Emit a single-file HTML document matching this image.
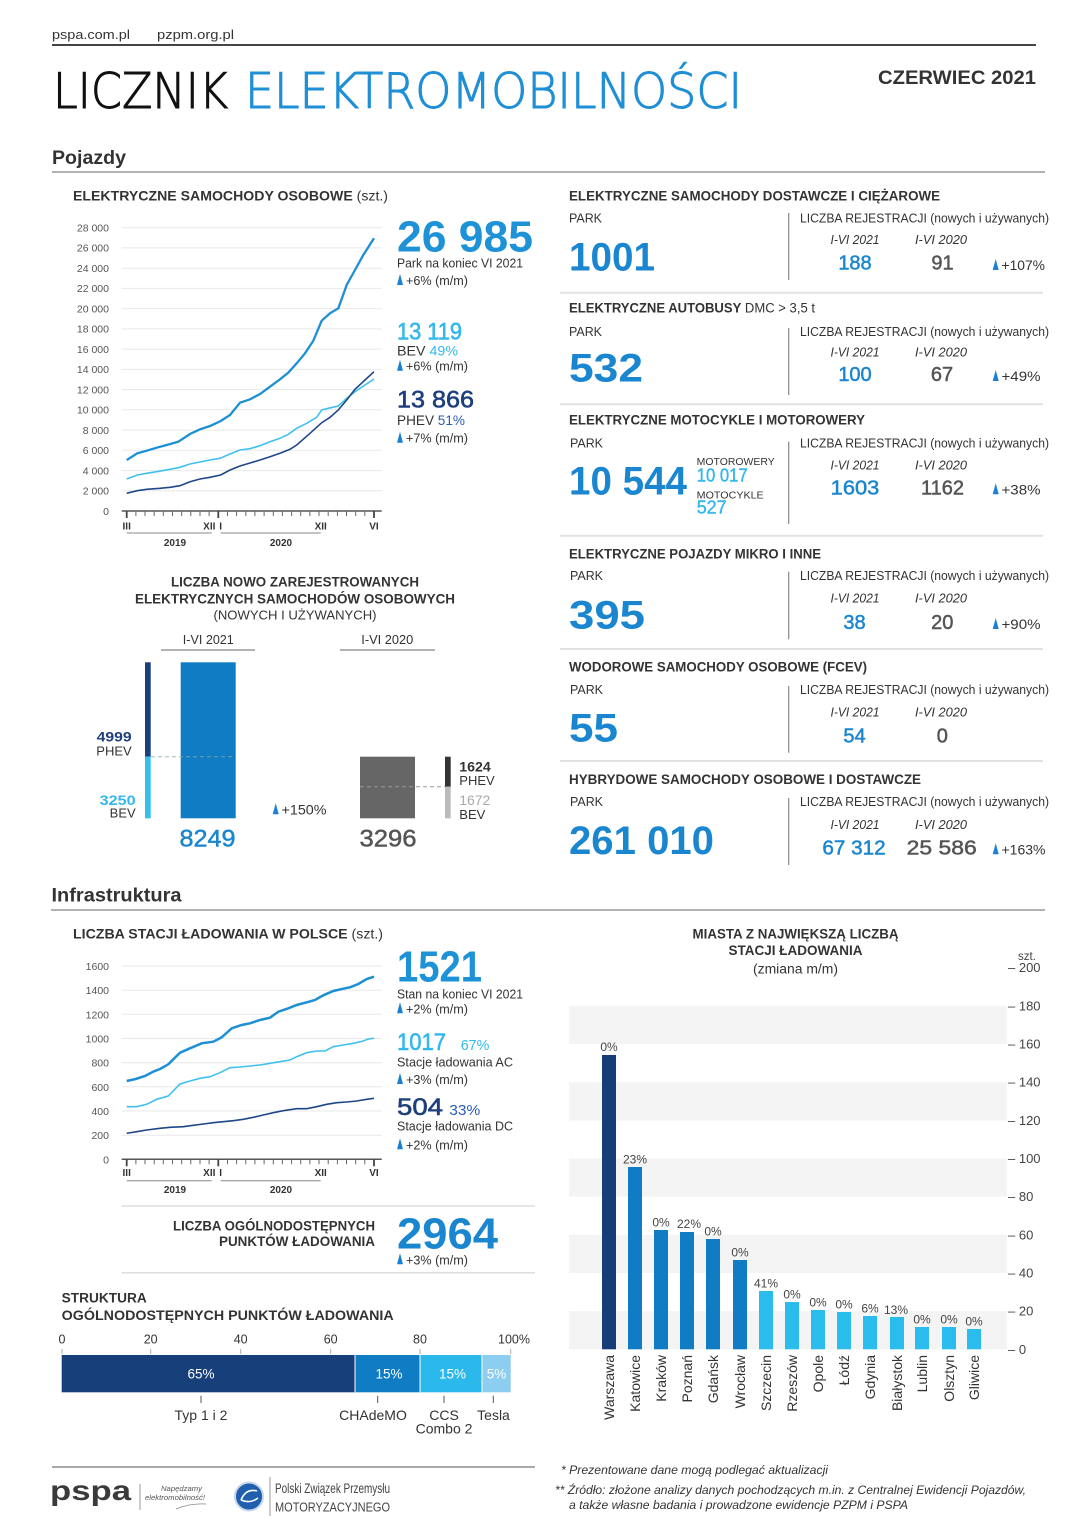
<!DOCTYPE html>
<html><head><meta charset="utf-8"><style>
html,body{margin:0;padding:0;background:#fff;}
svg{display:block;}
text{font-family:"Liberation Sans",Arial,sans-serif;fill:#333;}
.b{font-weight:bold;}
.i{font-style:italic;}
.sm{font-size:12.5px;}
.ax{font-size:10.5px;fill:#555;}
.blue{fill:#1a86cf;}
.lb{fill:#33b7ec;}
.nv{fill:#1e3f7e;}
</style></head><body>
<svg width="1086" height="1536" viewBox="0 0 1086 1536" xmlns="http://www.w3.org/2000/svg">
<rect width="1086" height="1536" fill="#fff"/>

<!-- HEADER -->
<text x="52" y="39" font-size="13" textLength="78" lengthAdjust="spacingAndGlyphs">pspa.com.pl</text>
<text x="157" y="39" font-size="13" textLength="77" lengthAdjust="spacingAndGlyphs">pzpm.org.pl</text>
<line x1="52" y1="45" x2="1036" y2="45" stroke="#444" stroke-width="2"/>
<text x="53" y="108" font-size="49" style="font-family:'DejaVu Sans','Liberation Sans',sans-serif;font-weight:200;fill:#111" stroke="#111" stroke-width="1" textLength="175" lengthAdjust="spacingAndGlyphs">LICZNIK</text>
<text x="245" y="108" font-size="49" style="font-family:'DejaVu Sans','Liberation Sans',sans-serif;font-weight:200;fill:#1f8fd6" stroke="#1f8fd6" stroke-width="1" textLength="497" lengthAdjust="spacingAndGlyphs">ELEKTROMOBILNOŚCI</text>
<text x="878" y="84" font-size="19" class="b" fill="#222" textLength="158" lengthAdjust="spacingAndGlyphs">CZERWIEC 2021</text>

<text x="52" y="164" font-size="19" class="b" textLength="74" lengthAdjust="spacingAndGlyphs">Pojazdy</text>
<line x1="52" y1="172" x2="1045" y2="172" stroke="#999" stroke-width="1.5"/>

<!-- CARS LINE CHART -->
<text x="73" y="200.7" font-size="13.5" textLength="315" lengthAdjust="spacingAndGlyphs"><tspan class="b">ELEKTRYCZNE SAMOCHODY OSOBOWE</tspan> (szt.)</text>
<g stroke="#e8e8e8" stroke-width="1">
<line x1="121.7" y1="227.7" x2="381.7" y2="227.7"/><line x1="121.7" y1="247.9" x2="381.7" y2="247.9"/><line x1="121.7" y1="268.2" x2="381.7" y2="268.2"/><line x1="121.7" y1="288.4" x2="381.7" y2="288.4"/><line x1="121.7" y1="308.6" x2="381.7" y2="308.6"/><line x1="121.7" y1="328.9" x2="381.7" y2="328.9"/><line x1="121.7" y1="349.1" x2="381.7" y2="349.1"/><line x1="121.7" y1="369.4" x2="381.7" y2="369.4"/><line x1="121.7" y1="389.6" x2="381.7" y2="389.6"/><line x1="121.7" y1="409.8" x2="381.7" y2="409.8"/><line x1="121.7" y1="430.1" x2="381.7" y2="430.1"/><line x1="121.7" y1="450.3" x2="381.7" y2="450.3"/><line x1="121.7" y1="470.6" x2="381.7" y2="470.6"/><line x1="121.7" y1="490.8" x2="381.7" y2="490.8"/>
</g>
<g class="ax" text-anchor="end" font-size="10.5">
<text x="109" y="231.5" class="ax">28 000</text><text x="109" y="251.7" class="ax">26 000</text><text x="109" y="272" class="ax">24 000</text><text x="109" y="292.2" class="ax">22 000</text><text x="109" y="312.4" class="ax">20 000</text><text x="109" y="332.7" class="ax">18 000</text><text x="109" y="352.9" class="ax">16 000</text><text x="109" y="373.2" class="ax">14 000</text><text x="109" y="393.4" class="ax">12 000</text><text x="109" y="413.6" class="ax">10 000</text><text x="109" y="433.9" class="ax">8 000</text><text x="109" y="454.1" class="ax">6 000</text><text x="109" y="474.4" class="ax">4 000</text><text x="109" y="494.6" class="ax">2 000</text><text x="109" y="514.8" class="ax">0</text>
</g>
<polyline fill="none" stroke="#40c0ee" stroke-width="1.6" points="126.7,479 137.3,475 146.7,473.3 156.7,471.7 170,469.3 180,467.3 190,464 200,462 210,460 220,458.3 230,454 240,450 250,448.7 260,445.7 270,441.7 280,438.3 288.3,434.3 296.7,428.3 306.7,423.3 316.7,417.3 321.7,410 328.3,408.3 338.3,406 346.7,398.3 355,391.7 365,385 374,379"/>
<polyline fill="none" stroke="#1f4788" stroke-width="1.6" points="126.7,493.3 137.3,490.7 146.7,489.3 160,488.3 170,487.3 180,485.7 190,481.7 200,479 210,477.3 220.7,475 230,470 240,466 250,463 260,460 270,456.7 280,453.3 290,449.3 296.7,445 310,433.3 321.7,422.7 330,417.3 338.3,410 346.7,400 355,389.3 365,380 374,371.7"/>
<polyline fill="none" stroke="#1d8fd4" stroke-width="2.3" points="126.7,460 137.3,453.3 146.7,450.7 156.7,447.7 166.7,445 178.3,441.7 190,434 200,429.3 210,426 220.7,421 230,415 240,402.7 250,399.3 260,394 270,386.7 280,379.3 288.3,372.7 296.7,363.3 305,353.3 313.3,340.7 321.7,320.7 330,313.3 338.3,308.3 346.7,285 355,270 363.3,255 374,238.3"/>
<line x1="121.7" y1="511" x2="381.7" y2="511" stroke="#555" stroke-width="1.5"/>
<g stroke="#666" stroke-width="1">
<line x1="135.9" y1="511" x2="135.9" y2="516"/><line x1="145" y1="511" x2="145" y2="516"/><line x1="154.2" y1="511" x2="154.2" y2="516"/><line x1="163.3" y1="511" x2="163.3" y2="516"/><line x1="172.5" y1="511" x2="172.5" y2="516"/><line x1="181.7" y1="511" x2="181.7" y2="516"/><line x1="190.8" y1="511" x2="190.8" y2="516"/><line x1="200" y1="511" x2="200" y2="516"/><line x1="209.1" y1="511" x2="209.1" y2="516"/><line x1="227.5" y1="511" x2="227.5" y2="516"/><line x1="236.6" y1="511" x2="236.6" y2="516"/><line x1="245.8" y1="511" x2="245.8" y2="516"/><line x1="254.9" y1="511" x2="254.9" y2="516"/><line x1="264.1" y1="511" x2="264.1" y2="516"/><line x1="273.3" y1="511" x2="273.3" y2="516"/><line x1="282.4" y1="511" x2="282.4" y2="516"/><line x1="291.6" y1="511" x2="291.6" y2="516"/><line x1="300.7" y1="511" x2="300.7" y2="516"/><line x1="309.9" y1="511" x2="309.9" y2="516"/><line x1="319" y1="511" x2="319" y2="516"/><line x1="328.2" y1="511" x2="328.2" y2="516"/><line x1="337.4" y1="511" x2="337.4" y2="516"/><line x1="346.5" y1="511" x2="346.5" y2="516"/><line x1="355.7" y1="511" x2="355.7" y2="516"/><line x1="364.8" y1="511" x2="364.8" y2="516"/>
</g>
<g stroke="#444" stroke-width="1.8"><line x1="126.7" y1="511" x2="126.7" y2="518"/><line x1="218.3" y1="511" x2="218.3" y2="518"/><line x1="374" y1="511" x2="374" y2="518"/></g>
<g font-size="10" class="b" text-anchor="middle">
<text x="126.7" y="529.5">III</text><text x="209.3" y="529.5">XII</text><text x="220.7" y="529.5">I</text><text x="320.7" y="529.5">XII</text><text x="374" y="529.5">VI</text>
<text x="175" y="546">2019</text><text x="281" y="546">2020</text>
</g>
<line x1="126.7" y1="533" x2="211.7" y2="533" stroke="#888"/>
<line x1="220.7" y1="533" x2="320.7" y2="533" stroke="#888"/>

<text x="397" y="251.7" font-size="44" class="b" style="fill:#1d92d6" textLength="136" lengthAdjust="spacingAndGlyphs">26 985</text>
<text x="397" y="267.3" class="sm" textLength="126" lengthAdjust="spacingAndGlyphs">Park na koniec VI 2021</text>
<path d="M397,285 L403,285 L400,274 Z" fill="#1b7fd4"/>
<text x="406" y="285" class="sm" textLength="62" lengthAdjust="spacingAndGlyphs">+6% (m/m)</text>
<text x="397" y="339.3" font-size="24" class="lb" stroke="#33b7ec" stroke-width="0.6" textLength="65" lengthAdjust="spacingAndGlyphs">13 119</text>
<text x="397" y="355.7" font-size="13.5" textLength="61" lengthAdjust="spacingAndGlyphs">BEV <tspan class="lb">49%</tspan></text>
<path d="M397,370.7 L403,370.7 L400,359.7 Z" fill="#1b7fd4"/>
<text x="406" y="370.7" class="sm" textLength="62" lengthAdjust="spacingAndGlyphs">+6% (m/m)</text>
<text x="397" y="407.7" font-size="24" class="nv" stroke="#1e3f7e" stroke-width="0.6" textLength="77" lengthAdjust="spacingAndGlyphs">13 866</text>
<text x="397" y="425" font-size="13.5" textLength="68" lengthAdjust="spacingAndGlyphs">PHEV <tspan style="fill:#2a5db8">51%</tspan></text>
<path d="M397,442.7 L403,442.7 L400,431.7 Z" fill="#1b7fd4"/>
<text x="406" y="442.7" class="sm" textLength="62" lengthAdjust="spacingAndGlyphs">+7% (m/m)</text>

<!-- NEW REGISTRATIONS BAR CHART -->
<g class="b" font-size="13.5" text-anchor="middle">
<text x="295" y="586.7" textLength="248" lengthAdjust="spacingAndGlyphs">LICZBA NOWO ZAREJESTROWANYCH</text>
<text x="295" y="603.3" textLength="320" lengthAdjust="spacingAndGlyphs">ELEKTRYCZNYCH SAMOCHODÓW OSOBOWYCH</text>
</g>
<text x="295" y="619.3" font-size="13" text-anchor="middle" textLength="163" lengthAdjust="spacingAndGlyphs">(NOWYCH I UŻYWANYCH)</text>
<text x="208.3" y="644" font-size="13" text-anchor="middle" textLength="51" lengthAdjust="spacingAndGlyphs">I-VI 2021</text>
<line x1="161" y1="650" x2="255" y2="650" stroke="#999" stroke-width="1.5"/>
<text x="387.3" y="644" font-size="13" text-anchor="middle" textLength="52" lengthAdjust="spacingAndGlyphs">I-VI 2020</text>
<line x1="340" y1="650" x2="435" y2="650" stroke="#999" stroke-width="1.5"/>
<rect x="145" y="662.3" width="5.7" height="94.4" fill="#1a3f7c"/>
<rect x="145" y="756.7" width="5.7" height="61.6" fill="#33c0f0"/>
<rect x="180.7" y="662.3" width="55" height="156" fill="#0f7cc4"/>
<line x1="151" y1="756.7" x2="236" y2="756.7" stroke="#8aa" stroke-width="1" stroke-dasharray="4,3" opacity="0.8"/>
<text x="131.7" y="741.7" font-size="14" class="b nv" text-anchor="end" textLength="35" lengthAdjust="spacingAndGlyphs">4999</text>
<text x="131.7" y="755.7" font-size="13" text-anchor="end">PHEV</text>
<text x="135.7" y="805" font-size="14" class="b lb" text-anchor="end" textLength="36" lengthAdjust="spacingAndGlyphs">3250</text>
<text x="135.7" y="817.3" font-size="13" text-anchor="end">BEV</text>
<text x="207.5" y="846.7" font-size="24" class="blue" stroke="#1a86cf" stroke-width="0.5" text-anchor="middle" textLength="56" lengthAdjust="spacingAndGlyphs">8249</text>
<path d="M272.7,814.3 L278.7,814.3 L275.7,803.3 Z" fill="#1b7fd4"/>
<text x="281.5" y="814.3" font-size="13.5" textLength="45" lengthAdjust="spacingAndGlyphs">+150%</text>
<rect x="360" y="756.7" width="55" height="61.6" fill="#666"/>
<line x1="360" y1="786.7" x2="445" y2="786.7" stroke="#999" stroke-width="1" stroke-dasharray="4,3"/>
<rect x="445" y="756.7" width="5.7" height="30" fill="#333"/>
<rect x="445" y="786.7" width="5.7" height="31.6" fill="#bbb"/>
<text x="459.3" y="771.7" font-size="14" class="b" fill="#222" textLength="31.5" lengthAdjust="spacingAndGlyphs">1624</text>
<text x="459.3" y="785" font-size="13">PHEV</text>
<text x="459.3" y="805" font-size="14" style="fill:#aaa" textLength="31" lengthAdjust="spacingAndGlyphs">1672</text>
<text x="459.3" y="819" font-size="13">BEV</text>
<text x="388" y="846.7" font-size="24" style="fill:#555" stroke="#555" stroke-width="0.5" text-anchor="middle" textLength="57" lengthAdjust="spacingAndGlyphs">3296</text>

<!-- RIGHT PANEL -->
<g stroke="#e2e2e2" stroke-width="2">
<line x1="560" y1="292.7" x2="1043" y2="292.7"/><line x1="560" y1="404.3" x2="1043" y2="404.3"/><line x1="560" y1="535.7" x2="1043" y2="535.7"/><line x1="560" y1="649" x2="1043" y2="649"/><line x1="560" y1="761" x2="1043" y2="761"/>
</g>
<g stroke="#888" stroke-width="1.2">
<line x1="788.7" y1="213" x2="788.7" y2="280"/><line x1="788.7" y1="328" x2="788.7" y2="395"/><line x1="788.7" y1="441.7" x2="788.7" y2="524"/><line x1="788.7" y1="571.7" x2="788.7" y2="639.3"/><line x1="788.7" y1="686" x2="788.7" y2="752.7"/><line x1="788.7" y1="798" x2="788.7" y2="865"/>
</g>
<g font-size="13.5">
<text x="569" y="200.7" class="b" textLength="371" lengthAdjust="spacingAndGlyphs">ELEKTRYCZNE SAMOCHODY DOSTAWCZE I CIĘŻAROWE</text>
<text x="569" y="312.7" textLength="246" lengthAdjust="spacingAndGlyphs"><tspan class="b">ELEKTRYCZNE AUTOBUSY</tspan> DMC &gt; 3,5 t</text>
<text x="569" y="424.3" class="b" textLength="296" lengthAdjust="spacingAndGlyphs">ELEKTRYCZNE MOTOCYKLE I MOTOROWERY</text>
<text x="569" y="558.3" class="b" textLength="252" lengthAdjust="spacingAndGlyphs">ELEKTRYCZNE POJAZDY MIKRO I INNE</text>
<text x="569" y="671.7" class="b" textLength="298" lengthAdjust="spacingAndGlyphs">WODOROWE SAMOCHODY OSOBOWE (FCEV)</text>
<text x="569" y="784" class="b" textLength="352" lengthAdjust="spacingAndGlyphs">HYBRYDOWE SAMOCHODY OSOBOWE I DOSTAWCZE</text>
</g>
<g font-size="12.5" style="fill:#444">
<text x="569" y="222.7" textLength="33" lengthAdjust="spacingAndGlyphs">PARK</text>
<text x="569" y="336" textLength="33" lengthAdjust="spacingAndGlyphs">PARK</text>
<text x="570" y="447.7" textLength="33" lengthAdjust="spacingAndGlyphs">PARK</text>
<text x="570" y="580" textLength="33" lengthAdjust="spacingAndGlyphs">PARK</text>
<text x="570" y="694" textLength="33" lengthAdjust="spacingAndGlyphs">PARK</text>
<text x="570" y="806" textLength="33" lengthAdjust="spacingAndGlyphs">PARK</text>
</g>
<g font-size="12.5">
<text x="800" y="222.7" textLength="249" lengthAdjust="spacingAndGlyphs">LICZBA REJESTRACJI (nowych i używanych)</text>
<text x="800" y="336" textLength="249" lengthAdjust="spacingAndGlyphs">LICZBA REJESTRACJI (nowych i używanych)</text>
<text x="800" y="447.7" textLength="249" lengthAdjust="spacingAndGlyphs">LICZBA REJESTRACJI (nowych i używanych)</text>
<text x="800" y="580" textLength="249" lengthAdjust="spacingAndGlyphs">LICZBA REJESTRACJI (nowych i używanych)</text>
<text x="800" y="694" textLength="249" lengthAdjust="spacingAndGlyphs">LICZBA REJESTRACJI (nowych i używanych)</text>
<text x="800" y="806" textLength="249" lengthAdjust="spacingAndGlyphs">LICZBA REJESTRACJI (nowych i używanych)</text>
</g>
<g font-size="12.5" class="i" text-anchor="middle">
<text x="855" y="244" class="i" textLength="49" lengthAdjust="spacingAndGlyphs">I-VI 2021</text><text x="941" y="244" class="i" textLength="52" lengthAdjust="spacingAndGlyphs">I-VI 2020</text>
<text x="855" y="356.7" class="i" textLength="49" lengthAdjust="spacingAndGlyphs">I-VI 2021</text><text x="941" y="356.7" class="i" textLength="52" lengthAdjust="spacingAndGlyphs">I-VI 2020</text>
<text x="855" y="469.3" class="i" textLength="49" lengthAdjust="spacingAndGlyphs">I-VI 2021</text><text x="941" y="469.3" class="i" textLength="52" lengthAdjust="spacingAndGlyphs">I-VI 2020</text>
<text x="855" y="602.7" class="i" textLength="49" lengthAdjust="spacingAndGlyphs">I-VI 2021</text><text x="941" y="602.7" class="i" textLength="52" lengthAdjust="spacingAndGlyphs">I-VI 2020</text>
<text x="855" y="716.7" class="i" textLength="49" lengthAdjust="spacingAndGlyphs">I-VI 2021</text><text x="941" y="716.7" class="i" textLength="52" lengthAdjust="spacingAndGlyphs">I-VI 2020</text>
<text x="855" y="829" class="i" textLength="49" lengthAdjust="spacingAndGlyphs">I-VI 2021</text><text x="941" y="829" class="i" textLength="52" lengthAdjust="spacingAndGlyphs">I-VI 2020</text>
</g>
<!-- big park numbers -->
<g font-size="40" class="b">
<text x="569" y="270.7" class="b blue" textLength="86" lengthAdjust="spacingAndGlyphs">1001</text>
<text x="569" y="381.7" class="b blue" textLength="74" lengthAdjust="spacingAndGlyphs">532</text>
<text x="569" y="494.3" class="b blue" textLength="118" lengthAdjust="spacingAndGlyphs">10 544</text>
<text x="569" y="628.3" class="b blue" textLength="76" lengthAdjust="spacingAndGlyphs">395</text>
<text x="569" y="741.7" class="b blue" textLength="49" lengthAdjust="spacingAndGlyphs">55</text>
<text x="569" y="854" class="b blue" textLength="145" lengthAdjust="spacingAndGlyphs">261 010</text>
</g>
<text x="696.7" y="465" font-size="10" textLength="78" lengthAdjust="spacingAndGlyphs">MOTOROWERY</text>
<text x="696.7" y="481.7" font-size="18" class="lb" stroke="#33b7ec" stroke-width="0.4" textLength="51" lengthAdjust="spacingAndGlyphs">10 017</text>
<text x="696.7" y="498.3" font-size="10" textLength="67" lengthAdjust="spacingAndGlyphs">MOTOCYKLE</text>
<text x="696.7" y="513.3" font-size="18" class="lb" stroke="#33b7ec" stroke-width="0.4" textLength="30" lengthAdjust="spacingAndGlyphs">527</text>
<!-- registration numbers -->
<g font-size="20" text-anchor="middle">
<text x="855" y="269.3" class="blue" stroke="#1a86cf" stroke-width="0.5">188</text><text x="942.5" y="269.3" style="fill:#555" stroke="#555" stroke-width="0.5">91</text>
<text x="855" y="381" class="blue" stroke="#1a86cf" stroke-width="0.5">100</text><text x="942" y="381" style="fill:#555" stroke="#555" stroke-width="0.5">67</text>
<text x="855" y="494.3" class="blue" stroke="#1a86cf" stroke-width="0.5" textLength="48.6" lengthAdjust="spacingAndGlyphs">1603</text><text x="942.5" y="494.3" style="fill:#555" stroke="#555" stroke-width="0.5" textLength="43" lengthAdjust="spacingAndGlyphs">1162</text>
<text x="854.5" y="629" class="blue" stroke="#1a86cf" stroke-width="0.5">38</text><text x="942.3" y="629" style="fill:#555" stroke="#555" stroke-width="0.5">20</text>
<text x="854.5" y="742.3" class="blue" stroke="#1a86cf" stroke-width="0.5">54</text><text x="942.3" y="742.3" style="fill:#555" stroke="#555" stroke-width="0.5">0</text>
<text x="854" y="854.3" class="blue" stroke="#1a86cf" stroke-width="0.5" textLength="63.3" lengthAdjust="spacingAndGlyphs">67 312</text><text x="941.7" y="854.3" style="fill:#555" stroke="#555" stroke-width="0.5" textLength="70" lengthAdjust="spacingAndGlyphs">25 586</text>
</g>
<g fill="#1b7fd4">
<path d="M992.7,270 L998.7,270 L995.7,259 Z"/><path d="M992.7,381 L998.7,381 L995.7,370 Z"/><path d="M992.7,494.3 L998.7,494.3 L995.7,483.3 Z"/><path d="M992.7,629 L998.7,629 L995.7,618 Z"/><path d="M992.7,854.3 L998.7,854.3 L995.7,843.3 Z"/>
</g>
<g font-size="14">
<text x="1001.5" y="270" textLength="43.5" lengthAdjust="spacingAndGlyphs">+107%</text>
<text x="1001.5" y="381" textLength="39" lengthAdjust="spacingAndGlyphs">+49%</text>
<text x="1001.5" y="494.3" textLength="39" lengthAdjust="spacingAndGlyphs">+38%</text>
<text x="1001.5" y="629" textLength="39" lengthAdjust="spacingAndGlyphs">+90%</text>
<text x="1001.5" y="854.3" textLength="44" lengthAdjust="spacingAndGlyphs">+163%</text>
</g>

<!-- INFRASTRUKTURA -->
<text x="51.5" y="901.7" font-size="19" class="b" textLength="130" lengthAdjust="spacingAndGlyphs">Infrastruktura</text>
<line x1="51" y1="910" x2="1045" y2="910" stroke="#999" stroke-width="1.5"/>
<text x="73" y="938.3" font-size="13.5" textLength="310" lengthAdjust="spacingAndGlyphs"><tspan class="b">LICZBA STACJI ŁADOWANIA W POLSCE</tspan> (szt.)</text>
<g stroke="#e8e8e8" stroke-width="1">
<line x1="121.7" y1="966" x2="381.7" y2="966"/><line x1="121.7" y1="990.2" x2="381.7" y2="990.2"/><line x1="121.7" y1="1014.3" x2="381.7" y2="1014.3"/><line x1="121.7" y1="1038.5" x2="381.7" y2="1038.5"/><line x1="121.7" y1="1062.7" x2="381.7" y2="1062.7"/><line x1="121.7" y1="1086.8" x2="381.7" y2="1086.8"/><line x1="121.7" y1="1111" x2="381.7" y2="1111"/><line x1="121.7" y1="1135.2" x2="381.7" y2="1135.2"/>
</g>
<g text-anchor="end">
<text x="109" y="970" class="ax" font-size="11">1600</text><text x="109" y="994.2" class="ax" font-size="11">1400</text><text x="109" y="1018.3" class="ax" font-size="11">1200</text><text x="109" y="1042.5" class="ax" font-size="11">1000</text><text x="109" y="1066.7" class="ax" font-size="11">800</text><text x="109" y="1090.8" class="ax" font-size="11">600</text><text x="109" y="1115" class="ax" font-size="11">400</text><text x="109" y="1139.2" class="ax" font-size="11">200</text><text x="109" y="1163.3" class="ax" font-size="11">0</text>
</g>
<polyline fill="none" stroke="#40c0ee" stroke-width="1.6" points="126.7,1106.7 136.7,1106.7 146.7,1104.3 156.7,1099.3 168.3,1096 180,1084 190,1081 200,1078.3 210,1076.7 220,1072.7 230,1067.7 240,1067 250,1066 260,1065 270,1063.3 280,1061.7 290,1060 296.7,1056.7 306.7,1052.7 316.7,1051 325,1051 333.3,1046.7 343.3,1045 353.3,1043.3 363.3,1041 368.3,1039 374,1038.3"/>
<polyline fill="none" stroke="#1f4788" stroke-width="1.6" points="126.7,1133.3 136.7,1131.7 146.7,1130 160,1128.3 170,1127.3 183.3,1126.7 193.3,1125.3 203.3,1124 213.3,1122.7 223.3,1121.7 233.3,1120.7 243.3,1119.3 253.3,1117.3 263.3,1115 273.3,1112.7 283.3,1110.7 296.7,1108.7 306.7,1108.7 316.7,1106.7 326.7,1104.3 336.7,1102.7 346.7,1102 356.7,1101 366.7,1099.3 374,1098.3"/>
<polyline fill="none" stroke="#1d8fd4" stroke-width="2.5" points="126.7,1081 135.7,1079 145,1076 154,1071.3 160,1069 168.3,1064.3 180,1052.7 190,1048.3 201.7,1043.3 213.3,1041.7 221.7,1037.3 231.7,1028.3 241.7,1025 250,1023.3 260,1020 270,1017.7 278.3,1011.7 288.3,1008.3 296.7,1005 306.7,1002.3 315,1000 323.3,995.3 333.3,991 343.3,988.7 350,987.3 358.3,984 366.7,979 374,976.7"/>
<line x1="121.7" y1="1159.3" x2="381.7" y2="1159.3" stroke="#555" stroke-width="1.5"/>
<g stroke="#666" stroke-width="1">
<line x1="135.9" y1="1159.3" x2="135.9" y2="1164.3"/><line x1="145" y1="1159.3" x2="145" y2="1164.3"/><line x1="154.2" y1="1159.3" x2="154.2" y2="1164.3"/><line x1="163.3" y1="1159.3" x2="163.3" y2="1164.3"/><line x1="172.5" y1="1159.3" x2="172.5" y2="1164.3"/><line x1="181.7" y1="1159.3" x2="181.7" y2="1164.3"/><line x1="190.8" y1="1159.3" x2="190.8" y2="1164.3"/><line x1="200" y1="1159.3" x2="200" y2="1164.3"/><line x1="209.1" y1="1159.3" x2="209.1" y2="1164.3"/><line x1="227.5" y1="1159.3" x2="227.5" y2="1164.3"/><line x1="236.6" y1="1159.3" x2="236.6" y2="1164.3"/><line x1="245.8" y1="1159.3" x2="245.8" y2="1164.3"/><line x1="254.9" y1="1159.3" x2="254.9" y2="1164.3"/><line x1="264.1" y1="1159.3" x2="264.1" y2="1164.3"/><line x1="273.3" y1="1159.3" x2="273.3" y2="1164.3"/><line x1="282.4" y1="1159.3" x2="282.4" y2="1164.3"/><line x1="291.6" y1="1159.3" x2="291.6" y2="1164.3"/><line x1="300.7" y1="1159.3" x2="300.7" y2="1164.3"/><line x1="309.9" y1="1159.3" x2="309.9" y2="1164.3"/><line x1="319" y1="1159.3" x2="319" y2="1164.3"/><line x1="328.2" y1="1159.3" x2="328.2" y2="1164.3"/><line x1="337.4" y1="1159.3" x2="337.4" y2="1164.3"/><line x1="346.5" y1="1159.3" x2="346.5" y2="1164.3"/><line x1="355.7" y1="1159.3" x2="355.7" y2="1164.3"/><line x1="364.8" y1="1159.3" x2="364.8" y2="1164.3"/>
</g>
<g stroke="#444" stroke-width="1.8"><line x1="126.7" y1="1159.3" x2="126.7" y2="1166.3"/><line x1="218.3" y1="1159.3" x2="218.3" y2="1166.3"/><line x1="374" y1="1159.3" x2="374" y2="1166.3"/></g>
<g font-size="10" class="b" text-anchor="middle">
<text x="126.7" y="1175.8">III</text><text x="209.3" y="1175.8">XII</text><text x="220.7" y="1175.8">I</text><text x="320.7" y="1175.8">XII</text><text x="374" y="1175.8">VI</text>
<text x="175" y="1193">2019</text><text x="281" y="1193">2020</text>
</g>
<line x1="126.7" y1="1180.7" x2="211.7" y2="1180.7" stroke="#888"/>
<line x1="220.7" y1="1180.7" x2="320.7" y2="1180.7" stroke="#888"/>

<text x="397" y="981.7" font-size="44" class="b" style="fill:#1d92d6" textLength="85" lengthAdjust="spacingAndGlyphs">1521</text>
<text x="397" y="998.3" class="sm" textLength="126" lengthAdjust="spacingAndGlyphs">Stan na koniec VI 2021</text>
<path d="M397,1013.3 L403,1013.3 L400,1002.3 Z" fill="#1b7fd4"/>
<text x="406" y="1013.3" class="sm" textLength="62" lengthAdjust="spacingAndGlyphs">+2% (m/m)</text>
<text x="397" y="1050" font-size="24" class="lb" stroke="#33b7ec" stroke-width="0.6" textLength="49" lengthAdjust="spacingAndGlyphs">1017</text>
<text x="460.7" y="1050" font-size="15" class="lb" textLength="28.6" lengthAdjust="spacingAndGlyphs">67%</text>
<text x="397" y="1066.7" class="sm" textLength="116" lengthAdjust="spacingAndGlyphs">Stacje ładowania AC</text>
<path d="M397,1084 L403,1084 L400,1073 Z" fill="#1b7fd4"/>
<text x="406" y="1084" class="sm" textLength="62" lengthAdjust="spacingAndGlyphs">+3% (m/m)</text>
<text x="397" y="1115" font-size="24" class="nv" stroke="#1e3f7e" stroke-width="0.6" textLength="46" lengthAdjust="spacingAndGlyphs">504</text>
<text x="449.3" y="1115" font-size="15" style="fill:#2a5db8" textLength="31" lengthAdjust="spacingAndGlyphs">33%</text>
<text x="397" y="1130.7" class="sm" textLength="116" lengthAdjust="spacingAndGlyphs">Stacje ładowania DC</text>
<path d="M397,1149.3 L403,1149.3 L400,1138.3 Z" fill="#1b7fd4"/>
<text x="406" y="1149.3" class="sm" textLength="62" lengthAdjust="spacingAndGlyphs">+2% (m/m)</text>

<line x1="121.7" y1="1206" x2="535" y2="1206" stroke="#ddd" stroke-width="1.5"/>
<g class="b" font-size="13.5" text-anchor="end">
<text x="375" y="1230.7" textLength="202" lengthAdjust="spacingAndGlyphs">LICZBA OGÓLNODOSTĘPNYCH</text>
<text x="375" y="1246" textLength="156" lengthAdjust="spacingAndGlyphs">PUNKTÓW ŁADOWANIA</text>
</g>
<text x="397" y="1248.3" font-size="44" class="b" style="fill:#1a86cf" textLength="101" lengthAdjust="spacingAndGlyphs">2964</text>
<path d="M397,1264.3 L403,1264.3 L400,1253.3 Z" fill="#1b7fd4"/>
<text x="406" y="1264.3" class="sm" textLength="62" lengthAdjust="spacingAndGlyphs">+3% (m/m)</text>
<line x1="121.7" y1="1272.7" x2="535" y2="1272.7" stroke="#ddd" stroke-width="1.5"/>

<!-- STRUCTURE BAR -->
<g class="b" font-size="13.5">
<text x="61.7" y="1302.7" textLength="85" lengthAdjust="spacingAndGlyphs">STRUKTURA</text>
<text x="61.7" y="1320" textLength="332" lengthAdjust="spacingAndGlyphs">OGÓLNODOSTĘPNYCH PUNKTÓW ŁADOWANIA</text>
</g>
<g font-size="12.5" text-anchor="middle" style="fill:#444">
<text x="62" y="1343.3">0</text><text x="150.7" y="1343.3">20</text><text x="240.7" y="1343.3">40</text><text x="330.7" y="1343.3">60</text><text x="420" y="1343.3">80</text><text x="514" y="1343.3">100%</text>
</g>
<g stroke="#aaa" stroke-width="1">
<line x1="62" y1="1349" x2="62" y2="1354"/><line x1="150.7" y1="1349" x2="150.7" y2="1354"/><line x1="240.7" y1="1349" x2="240.7" y2="1354"/><line x1="330.7" y1="1349" x2="330.7" y2="1354"/><line x1="420" y1="1349" x2="420" y2="1354"/><line x1="510.7" y1="1349" x2="510.7" y2="1354"/>
</g>
<rect x="61.7" y="1355" width="293.3" height="37.3" fill="#173f7a"/>
<rect x="355" y="1355" width="65" height="37.3" fill="#0f7cc4"/>
<rect x="420" y="1355" width="62" height="37.3" fill="#2bb9ec"/>
<rect x="482" y="1355" width="28.7" height="37.3" fill="#8dcdf0"/>
<line x1="355" y1="1355" x2="355" y2="1392.3" stroke="#fff"/><line x1="420" y1="1355" x2="420" y2="1392.3" stroke="#fff"/><line x1="482" y1="1355" x2="482" y2="1392.3" stroke="#fff"/>
<g font-size="13.5" text-anchor="middle" style="fill:#fff">
<text x="201" y="1378.3" style="fill:#fff">65%</text><text x="389" y="1378.3" style="fill:#fff">15%</text><text x="452.5" y="1378.3" style="fill:#fff">15%</text><text x="496.5" y="1378.3" style="fill:#fff">5%</text>
</g>
<g stroke="#555" stroke-width="1">
<line x1="201" y1="1395.7" x2="201" y2="1403"/><line x1="377.7" y1="1395.7" x2="377.7" y2="1403"/><line x1="444" y1="1395.7" x2="444" y2="1403"/><line x1="493.3" y1="1395.7" x2="493.3" y2="1403"/>
</g>
<g font-size="14" text-anchor="middle">
<text x="201" y="1420">Typ 1 i 2</text><text x="373" y="1420">CHAdeMO</text><text x="444" y="1420">CCS</text><text x="444" y="1433.3">Combo 2</text><text x="493.5" y="1420">Tesla</text>
</g>

<!-- CITIES CHART -->
<g class="b" font-size="13.5" text-anchor="middle">
<text x="795.5" y="938.3" textLength="206" lengthAdjust="spacingAndGlyphs">MIASTA Z NAJWIĘKSZĄ LICZBĄ</text>
<text x="795.5" y="955" textLength="134" lengthAdjust="spacingAndGlyphs">STACJI ŁADOWANIA</text>
</g>
<text x="795.5" y="973.3" font-size="13.5" text-anchor="middle" textLength="85" lengthAdjust="spacingAndGlyphs">(zmiana m/m)</text>
<g fill="#f4f4f4">
<rect x="569" y="1311.1" width="438" height="38.2"/><rect x="569" y="1234.8" width="438" height="38.2"/><rect x="569" y="1158.5" width="438" height="38.2"/><rect x="569" y="1082.2" width="438" height="38.2"/><rect x="569" y="1005.9" width="438" height="38.2"/>
</g>
<text x="1018" y="960" font-size="11.5" style="fill:#444">szt.</text>
<g font-size="13" style="fill:#444">
<text x="1008" y="972.2" style="fill:#444">– 200</text><text x="1008" y="1010.4" style="fill:#444">– 180</text><text x="1008" y="1048.5" style="fill:#444">– 160</text><text x="1008" y="1086.7" style="fill:#444">– 140</text><text x="1008" y="1124.8" style="fill:#444">– 120</text><text x="1008" y="1163" style="fill:#444">– 100</text><text x="1008" y="1201.2" style="fill:#444">– 80</text><text x="1008" y="1239.3" style="fill:#444">– 60</text><text x="1008" y="1277.5" style="fill:#444">– 40</text><text x="1008" y="1315.6" style="fill:#444">– 20</text><text x="1008" y="1353.8" style="fill:#444">– 0</text>
</g>
<rect x="602" y="1055" width="14" height="294.3" fill="#173d78"/>
<g fill="#0f7cc4">
<rect x="628" y="1167" width="14" height="182.3"/><rect x="654" y="1230" width="14" height="119.3"/><rect x="680" y="1232" width="14" height="117.3"/><rect x="706" y="1239" width="14" height="110.3"/><rect x="733" y="1260" width="14" height="89.3"/>
</g>
<g fill="#2bbcee">
<rect x="759" y="1291" width="14" height="58.3"/><rect x="785" y="1302" width="14" height="47.3"/><rect x="811" y="1310" width="14" height="39.3"/><rect x="837" y="1312" width="14" height="37.3"/><rect x="863" y="1316" width="14" height="33.3"/><rect x="890" y="1317" width="14" height="32.3"/><rect x="915" y="1327" width="14" height="22.3"/><rect x="942" y="1327" width="14" height="22.3"/><rect x="967" y="1329" width="14" height="20.3"/>
</g>
<g font-size="12" text-anchor="middle" style="fill:#444">
<text x="609" y="1051" style="fill:#444">0%</text><text x="635" y="1163.5" style="fill:#444">23%</text><text x="661" y="1226.5" style="fill:#444">0%</text><text x="689" y="1228" style="fill:#444">22%</text><text x="713" y="1235.5" style="fill:#444">0%</text><text x="740" y="1256.5" style="fill:#444">0%</text><text x="766" y="1287.5" style="fill:#444">41%</text><text x="792" y="1298.5" style="fill:#444">0%</text><text x="818" y="1306.5" style="fill:#444">0%</text><text x="844" y="1308.5" style="fill:#444">0%</text><text x="870" y="1312.5" style="fill:#444">6%</text><text x="896" y="1314" style="fill:#444">13%</text><text x="922" y="1323.5" style="fill:#444">0%</text><text x="949" y="1323.5" style="fill:#444">0%</text><text x="974" y="1325.5" style="fill:#444">0%</text>
</g>
<g font-size="14" text-anchor="end">
<text transform="translate(614,1355) rotate(-90)">Warszawa</text>
<text transform="translate(640,1355) rotate(-90)">Katowice</text>
<text transform="translate(666,1355) rotate(-90)">Kraków</text>
<text transform="translate(692,1355) rotate(-90)">Poznań</text>
<text transform="translate(718,1355) rotate(-90)">Gdańsk</text>
<text transform="translate(745,1355) rotate(-90)">Wrocław</text>
<text transform="translate(771,1355) rotate(-90)">Szczecin</text>
<text transform="translate(797,1355) rotate(-90)">Rzeszów</text>
<text transform="translate(823,1355) rotate(-90)">Opole</text>
<text transform="translate(849,1355) rotate(-90)">Łódź</text>
<text transform="translate(875,1355) rotate(-90)">Gdynia</text>
<text transform="translate(902,1355) rotate(-90)">Białystok</text>
<text transform="translate(927,1355) rotate(-90)">Lublin</text>
<text transform="translate(954,1355) rotate(-90)">Olsztyn</text>
<text transform="translate(979,1355) rotate(-90)">Gliwice</text>
</g>

<!-- FOOTER -->
<line x1="52" y1="1467" x2="535" y2="1467" stroke="#555" stroke-width="1"/>
<text x="50" y="1500" font-size="28" class="b" style="fill:#3a3a3a" textLength="81" lengthAdjust="spacingAndGlyphs">pspa</text>
<line x1="140" y1="1484" x2="140" y2="1510" stroke="#999" stroke-width="1"/>
<text x="161" y="1491" font-size="7" class="i" style="fill:#555" textLength="41" lengthAdjust="spacingAndGlyphs">Napędzamy</text>
<text x="145" y="1500" font-size="7" class="i" style="fill:#555" textLength="60" lengthAdjust="spacingAndGlyphs">elektromobilność!</text>
<path d="M176,1509 Q190,1503 206,1504" fill="none" stroke="#888" stroke-width="0.8"/>
<circle cx="249" cy="1496.5" r="14" fill="#1f5fae"/>
<circle cx="249" cy="1496.5" r="14" fill="none" stroke="#c9d6e8" stroke-width="2"/>
<path d="M241,1500 Q246,1488 257,1491 M241,1500 Q250,1504 258,1498" fill="none" stroke="#fff" stroke-width="1.6"/>
<line x1="270" y1="1477" x2="270" y2="1516" stroke="#999" stroke-width="1"/>
<text x="275" y="1493" font-size="14" style="fill:#444" textLength="115" lengthAdjust="spacingAndGlyphs">Polski Związek Przemysłu</text>
<text x="275" y="1511.7" font-size="13" style="fill:#444" textLength="115" lengthAdjust="spacingAndGlyphs">MOTORYZACYJNEGO</text>
<g font-size="11.5" class="i">
<text x="561" y="1474" class="i" textLength="267" lengthAdjust="spacingAndGlyphs">* Prezentowane dane mogą podlegać aktualizacji</text>
<text x="555" y="1494" class="i" textLength="471" lengthAdjust="spacingAndGlyphs">** Źródło: złożone analizy danych pochodzących m.in. z Centralnej Ewidencji Pojazdów,</text>
<text x="569" y="1509" class="i" textLength="339" lengthAdjust="spacingAndGlyphs">a także własne badania i prowadzone ewidencje PZPM i PSPA</text>
</g>
</svg>
</body></html>
